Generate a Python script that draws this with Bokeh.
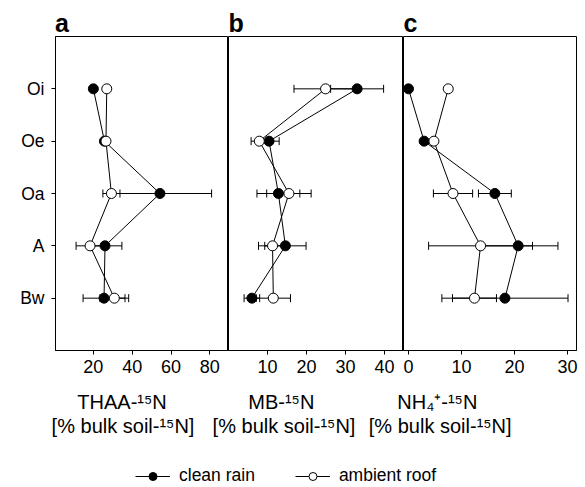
import numpy as np
from bokeh.plotting import figure
from bokeh.models import (ColumnDataSource, Range1d, FixedTicker, Whisker, TeeHead,
                          Label, Legend, LegendItem)
from bokeh.layouts import row, column
from bokeh.embed import file_html
from bokeh.resources import INLINE

# ---------------- data ----------------
horizons = ["Oi", "Oe", "Oa", "A", "Bw"]
depth = [1, 2, 3, 4, 5]

thaa_clean = [20.0, 25.7, 54.3, 26.0, 25.5]
thaa_clean_err = [0, 0, 26.6, 8.7, 10.8]
thaa_ambient = [26.9, 26.5, 29.3, 18.3, 30.8]
thaa_ambient_err = [0, 0, 4.4, 7.2, 7.4]

mb_clean = [33.0, 10.4, 12.8, 14.6, 6.0]
mb_clean_err = [6.8, 2.6, 5.5, 5.3, 2.0]
mb_ambient = [24.9, 7.9, 15.5, 11.3, 11.5]
mb_ambient_err = [8.1, 2.1, 5.7, 3.6, 4.4]

nh4_clean = [0.0, 2.95, 16.3, 20.7, 18.2]
nh4_clean_err = [0, 0, 3.1, 7.5, 11.9]
nh4_ambient = [7.5, 4.8, 8.4, 13.6, 12.45]
nh4_ambient_err = [0, 0, 3.7, 9.8, 4.15]

thaa_ticks = [20, 40, 60, 80]
mb_ticks = [10, 20, 30, 40]
nh4_ticks = [0, 10, 20, 30]

panel_letters = ["a", "b", "c"]
title_lines = ["THAA-\u00b9\u2075N", "MB-\u00b9\u2075N", "NH\u2084\u207a-\u00b9\u2075N"]
unit_line = "[% bulk soil-\u00b9\u2075N]"
series_names = ["clean rain", "ambient roof"]

FONT = "Liberation Sans"
FRAME_H = 314
TOTAL_W = 578
TOP_H = 36
BOTTOM_BORDER = 32
STRIP_H = 104


def whisker_source(vals, errs):
    ys, lo, hi = [], [], []
    for d, v, e in zip(depth, vals, errs):
        if e > 0:
            ys.append(d)
            lo.append(v - e)
            hi.append(v + e)
    return ColumnDataSource(dict(y=ys, lo=lo, hi=hi))


def panel(xr, ticks, clean, clean_err, amb, amb_err, frame_w,
          left_axis=False, bl=0, br=0):
    p = figure(frame_width=frame_w, frame_height=FRAME_H,
               x_range=Range1d(*xr), y_range=Range1d(6, 0),
               output_backend="svg", toolbar_location=None,
               min_border_left=bl, min_border_right=br,
               min_border_top=0, min_border_bottom=BOTTOM_BORDER,
               y_axis_location="left" if left_axis else None)
    p.xgrid.visible = False
    p.ygrid.visible = False
    p.outline_line_color = "black"
    p.outline_line_width = 1
    p.background_fill_color = "white"
    p.border_fill_color = "white"

    xa = p.xaxis[0]
    xa.ticker = FixedTicker(ticks=ticks)
    xa.major_tick_in = 0
    xa.major_tick_out = 4
    xa.minor_tick_line_color = None
    xa.axis_line_color = "black"
    xa.major_tick_line_color = "black"
    xa.major_label_text_font = FONT
    xa.major_label_text_font_size = "18px"
    xa.major_label_text_color = "black"
    xa.major_label_standoff = 5

    if left_axis:
        ya = p.yaxis[0]
        ya.ticker = FixedTicker(ticks=depth)
        ya.major_label_overrides = {d: h for d, h in zip(depth, horizons)}
        ya.major_tick_in = 0
        ya.major_tick_out = 4
        ya.minor_tick_line_color = None
        ya.axis_line_color = "black"
        ya.major_tick_line_color = "black"
        ya.major_label_text_font = FONT
        ya.major_label_text_font_size = "17.5px"
        ya.major_label_text_color = "black"
        ya.major_label_standoff = 7

    for vals, errs in ((clean, clean_err), (amb, amb_err)):
        w = Whisker(base="y", lower="lo", upper="hi", dimension="width",
                    source=whisker_source(vals, errs),
                    line_color="black", line_width=1,
                    upper_head=TeeHead(size=8, line_color="black", line_width=1),
                    lower_head=TeeHead(size=8, line_color="black", line_width=1))
        p.add_layout(w)

    p.line(clean, depth, line_color="black", line_width=1)
    p.line(amb, depth, line_color="black", line_width=1)
    p.scatter(clean, depth, size=10, fill_color="black", line_color="black", line_width=1)
    p.scatter(amb, depth, size=10, fill_color="white", line_color="black", line_width=1)
    return p


def strip(height):
    s = figure(width=TOTAL_W, height=height, x_range=Range1d(0, TOTAL_W),
               y_range=Range1d(height, 0), output_backend="svg",
               toolbar_location=None, min_border=0,
               x_axis_location=None, y_axis_location=None)
    s.outline_line_color = None
    s.xgrid.visible = False
    s.ygrid.visible = False
    return s


pa = panel((0.5, 89.6), thaa_ticks, thaa_clean, thaa_clean_err, thaa_ambient,
           thaa_ambient_err, 173, left_axis=True, bl=55, br=0)
pb = panel((0.0, 44.9), mb_ticks, mb_clean, mb_clean_err, mb_ambient,
           mb_ambient_err, 175, bl=0, br=0)
pc = panel((-0.94, 31.7), nh4_ticks, nh4_clean, nh4_clean_err, nh4_ambient,
           nh4_ambient_err, 173, bl=0, br=2)

# ---------------- top strip with panel letters ----------------
top = strip(TOP_H)
for letter, lx in zip(panel_letters, [54.5, 228, 403]):
    top.add_layout(Label(x=lx, y=22, text=letter, text_font=FONT,
                         text_font_style="bold", text_font_size="25px",
                         text_color="black", text_baseline="alphabetic",
                         text_align="left"))

# ---------------- bottom strip with axis titles and legend ----------------
bot = strip(STRIP_H)
for t, c1, c2 in zip(title_lines, [121.5, 280.8, 436.8], [122.5, 283.5, 439.7]):
    bot.add_layout(Label(x=c1, y=19, text=t, text_font=FONT, text_font_size="20px",
                         text_color="black", text_baseline="alphabetic",
                         text_align="center"))
    bot.add_layout(Label(x=c2, y=43, text=unit_line, text_font=FONT,
                         text_font_size="20px", text_color="black",
                         text_baseline="alphabetic", text_align="center"))

nan = [np.nan]
lc = bot.line(nan, nan, line_color="black", line_width=1)
sc = bot.scatter(nan, nan, fill_color="black", line_color="black")
la = bot.line(nan, nan, line_color="black", line_width=1)
sa = bot.scatter(nan, nan, fill_color="white", line_color="black")
legend = Legend(items=[LegendItem(label=series_names[0], renderers=[lc, sc]),
                       LegendItem(label=series_names[1], renderers=[la, sa])],
                orientation="horizontal", location=(135, 0),
                glyph_width=35, glyph_height=20, label_standoff=9, spacing=40,
                padding=0, margin=0, border_line_color=None,
                background_fill_alpha=0, label_text_font=FONT,
                label_text_font_size="17.5px", label_text_color="black")
bot.add_layout(legend, "center")

layout = column(top, row(pa, pb, pc, spacing=0), bot, spacing=0)

open("out.html", "w").write(file_html(layout, INLINE))
